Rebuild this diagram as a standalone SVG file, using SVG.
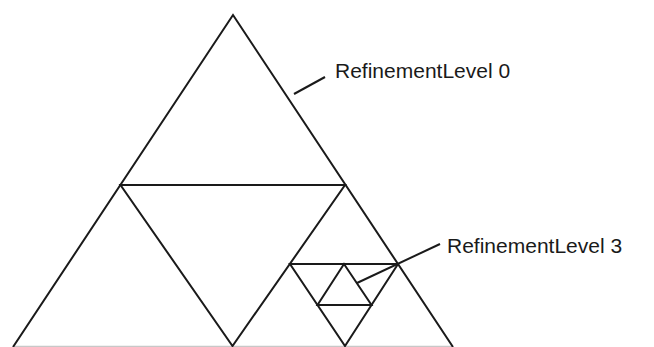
<svg xmlns="http://www.w3.org/2000/svg" width="654" height="347" viewBox="0 0 654 347">
<style>
.e{stroke:#1a1a1a;stroke-width:2;fill:none;stroke-linejoin:miter}
.t{font-family:"Liberation Sans",Arial,sans-serif;font-size:21px;fill:#1a1a1a}
</style>
<rect width="654" height="347" fill="#fff"/>
<line x1="13" y1="346.5" x2="452" y2="346.5" stroke="#c8c8c8" stroke-width="1.5"/>
<g id="level0">
<polyline class="e" points="13,347 233,15 453,347"/>
</g>
<g id="level1">
<polygon class="e" points="120.5,185 345,185 232.5,346"/>
</g>
<g id="level2">
<polygon class="e" points="290,264 398,264 345,346"/>
</g>
<g id="level3">
<polygon class="e" points="344,264 317.5,305 371.5,305"/>
</g>
<g id="connectors">
<line class="e" x1="294" y1="94" x2="325" y2="77"/>
<line class="e" x1="357" y1="283" x2="440" y2="244"/>
</g>
<g id="label0"><text class="t" x="335" y="77.5">RefinementLevel 0</text></g>
<g id="label3"><text class="t" x="447" y="253">RefinementLevel 3</text></g>
</svg>
